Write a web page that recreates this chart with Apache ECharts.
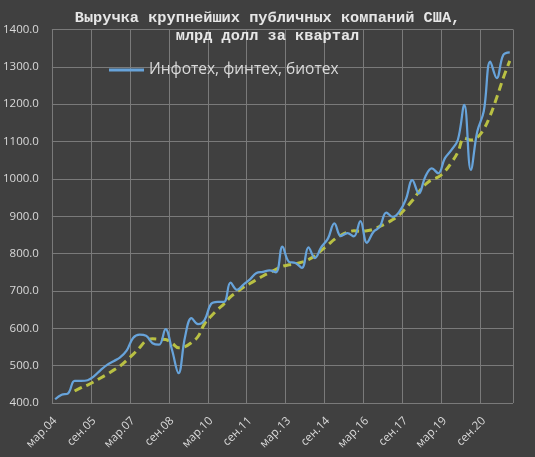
<!DOCTYPE html>
<html>
<head>
<meta charset="utf-8">
<script src="https://cdn.jsdelivr.net/npm/echarts@6/dist/echarts.min.js"></script>
<style>
  html, body { margin: 0; padding: 0; background: #404040; }
  #chart { width: 535px; height: 457px; }
</style>
</head>
<body>
<div id="chart"></div>
<script>
// quarters from мар.04 to сен.21
const months = ['мар', 'июн', 'сен', 'дек'];
const categories = [];
for (let y = 4; y <= 21; y++) {
  for (const m of months) {
    if (categories.length < 71) categories.push(m + '.' + String(y).padStart(2, '0'));
  }
}

const revenue = [
  410, 422, 426, 459, 459, 461, 472, 488, 502, 512,
  522, 540, 574, 583, 580, 560, 556, 598, 542, 480,
  577, 627, 611, 622, 665, 671, 671, 722, 703, 717,
  731, 748, 751, 755, 750, 819, 778, 775, 762, 817,
  788, 818, 840, 881, 847, 855, 846, 887, 829, 858,
  872, 910, 898, 912, 945, 997, 961, 1006, 1028, 1015,
  1055, 1077, 1104, 1198, 1024, 1127, 1181, 1314, 1270, 1332,
  1339
];

const trend = [
  null, null, null, 432, 441, 448, 457, 467, 477, 488,
  499, 514, 530, 548, 567, 572, 571, 570, 560, 548,
  551, 562, 578, 612, 632, 650, 665, 684, 697, 710,
  720, 730, 740, 749, 758, 766, 770, 773, 777, 784,
  794, 809, 823, 838, 849, 857, 861, 860, 861, 865,
  873, 881, 891, 904, 922, 942, 965, 985, 998, 1005,
  1020, 1043, 1071, 1109, 1104, 1111, 1133, 1170, 1218, 1270,
  1316
];

const seriesName = 'Инфотех, финтех, биотех';
const titleText = 'Выручка крупнейших публичных компаний США,\nмлрд долл за квартал';

const chart = echarts.init(document.getElementById('chart'));

const option = {
  backgroundColor: '#404040',
  animation: false,
  title: {
    text: titleText,
    left: 'center',
    top: 4,
    textStyle: {
      fontFamily: 'Liberation Mono',
      fontWeight: 'bold',
      fontSize: 15.3,
      lineHeight: 18,
      color: '#e6e6e6'
    }
  },
  legend: {
    data: [seriesName],
    left: 104,
    top: 57,
    icon: 'rect',
    itemWidth: 35,
    itemHeight: 3,
    itemGap: 3,
    textStyle: {
      color: '#d9d9d9',
      fontFamily: 'Open Sans',
      fontSize: 15.5
    }
  },
  grid: {
    left: 49,
    right: 22,
    top: 29.5,
    bottom: 54
  },
  xAxis: {
    type: 'category',
    data: categories,
    boundaryGap: true,
    axisLine: { show: false },
    axisTick: { show: false },
    axisLabel: {
      interval: 5,
      rotate: 45,
      margin: 16,
      color: '#d9d9d9',
      fontFamily: 'Open Sans',
      fontSize: 11.5
    },
    splitLine: {
      show: true,
      interval: 5,
      lineStyle: { color: '#7a7a7a', width: 1 }
    }
  },
  yAxis: {
    type: 'value',
    min: 400,
    max: 1400,
    interval: 100,
    axisLine: { show: false },
    axisTick: { show: false },
    axisLabel: {
      margin: 13,
      color: '#d9d9d9',
      fontFamily: 'Open Sans',
      fontSize: 11.5,
      formatter: v => v.toFixed(1)
    },
    splitLine: {
      lineStyle: { color: '#7a7a7a', width: 1 }
    }
  },
  series: [
    {
      name: seriesName,
      type: 'line',
      data: revenue,
      smooth: 0.4,
      showSymbol: false,
      itemStyle: { color: '#67a3da' },
      lineStyle: { color: '#67a3da', width: 2.25 },
      z: 3
    },
    {
      name: 'trend',
      type: 'line',
      data: trend,
      smooth: 0.4,
      showSymbol: false,
      itemStyle: { color: '#b9c043' },
      lineStyle: { color: '#b9c043', width: 3, type: [8, 5] },
      z: 2
    }
  ]
};

chart.setOption(option);
</script>
</body>
</html>
